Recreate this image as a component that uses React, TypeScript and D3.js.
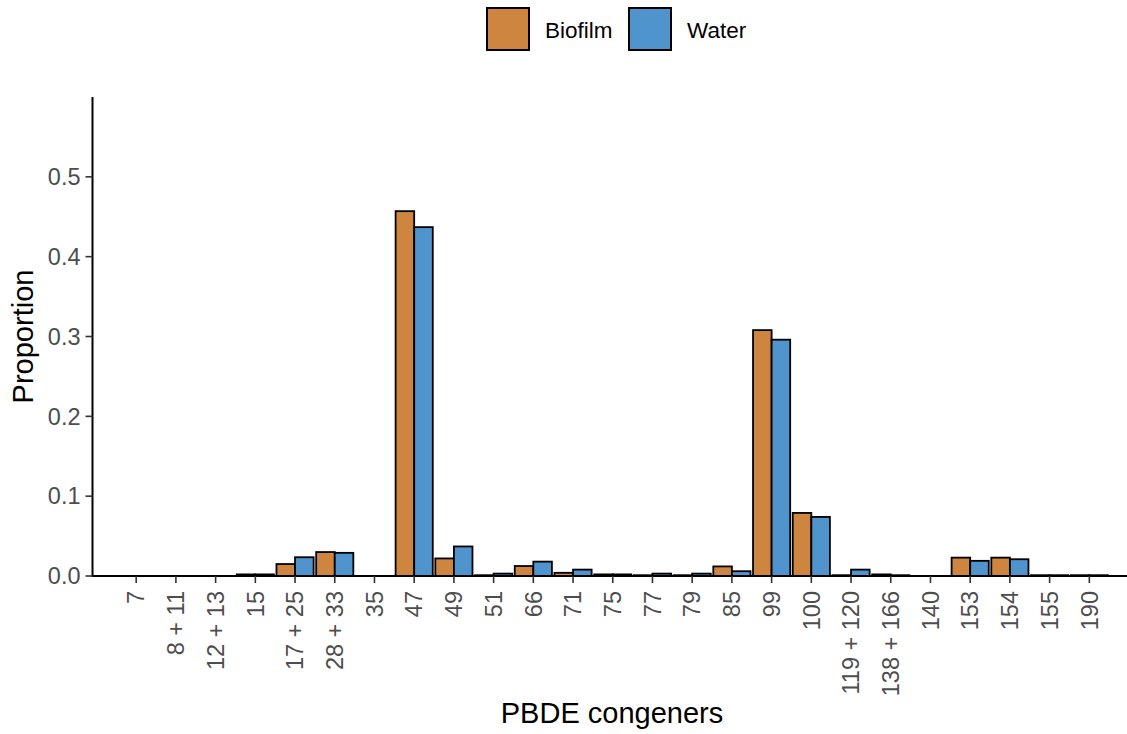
import { useMemo } from 'react';
import * as d3 from 'd3';

const congeners = [
  '7', '8 + 11', '12 + 13', '15', '17 + 25', '28 + 33', '35', '47', '49', '51', '66', '71', '75',
  '77', '79', '85', '99', '100', '119 + 120', '138 + 166', '140', '153', '154', '155', '190',
];
const biofilm = [
  0, 0, 0, 0.002, 0.015, 0.030, 0, 0.457, 0.022, 0.001, 0.0125, 0.004, 0.002,
  0.001, 0.001, 0.012, 0.308, 0.079, 0.001, 0.002, 0, 0.023, 0.023, 0.001, 0.001,
];
const water = [
  0, 0, 0, 0.002, 0.0235, 0.029, 0, 0.437, 0.037, 0.003, 0.018, 0.008, 0.002,
  0.003, 0.003, 0.006, 0.296, 0.074, 0.008, 0.001, 0, 0.019, 0.021, 0.001, 0.001,
];
const series = ['Biofilm', 'Water'];
const colors = ['#CD853F', '#4F94CD'];
const yTicks = [0, 0.1, 0.2, 0.3, 0.4, 0.5];

const W = 1127;
const H = 734;
const left = 92.5;
const top = 97;
const bottom = 576;
const step = 41.29;
const font = '"Liberation Sans", Arial, sans-serif';

export default function App() {
  const x = useMemo(
    () =>
      d3
        .scaleBand<string>()
        .domain(congeners)
        .range([left, left + step * (congeners.length + 0.2)])
        .paddingInner(0)
        .paddingOuter(0.6),
    []
  );
  const y = d3.scaleLinear().domain([0, 0.6]).range([bottom, top]);
  const inner = d3.scaleBand<string>().domain(series).range([0, step * 0.9]);
  const values = [biofilm, water];

  return (
    <svg width={W} height={H} style={{ position: 'absolute', left: 0, top: 0, background: '#fff', fontFamily: font }}>
      {/* bars */}
      {congeners.map((c, i) => {
        const cx = (x(c) ?? 0) + x.bandwidth() / 2;
        return series.map((s, k) => {
          const v = values[k][i];
          const yy = y(v);
          return (
            <rect
              key={c + s}
              x={cx - step * 0.45 + (inner(s) ?? 0)}
              y={yy}
              width={inner.bandwidth()}
              height={bottom - yy}
              fill={colors[k]}
              stroke="#000"
              strokeWidth={1.8}
            />
          );
        });
      })}

      {/* axes */}
      <line x1={left} x2={W} y1={bottom} y2={bottom} stroke="#000" strokeWidth={2} />
      <line x1={left} x2={left} y1={top} y2={bottom + 1} stroke="#000" strokeWidth={2} />

      {yTicks.map((t) => (
        <g key={t}>
          <line x1={left - 7} x2={left} y1={y(t)} y2={y(t)} stroke="#333" strokeWidth={1.6} />
          <text x={left - 12} y={y(t)} dy="0.35em" textAnchor="end" fontSize={23.5} fill="#4d4d4d">
            {t.toFixed(1)}
          </text>
        </g>
      ))}

      {congeners.map((c) => {
        const cx = (x(c) ?? 0) + x.bandwidth() / 2;
        return (
          <g key={c}>
            <line x1={cx} x2={cx} y1={bottom} y2={bottom + 7} stroke="#333" strokeWidth={1.6} />
            <text
              transform={`translate(${cx},${bottom + 15}) rotate(-90)`}
              dy="0.35em"
              textAnchor="end"
              fontSize={23.5}
              fill="#4d4d4d"
            >
              {c}
            </text>
          </g>
        );
      })}

      {/* titles */}
      <text x={612} y={723} textAnchor="middle" fontSize={29} fill="#000">
        PBDE congeners
      </text>
      <text transform={`translate(33,${(top + bottom) / 2}) rotate(-90)`} textAnchor="middle" fontSize={29} fill="#000">
        Proportion
      </text>

      {/* legend */}
      {series.map((s, k) => {
        const lx = k === 0 ? 487 : 629;
        return (
          <g key={s}>
            <rect x={lx} y={8} width={42} height={42} fill={colors[k]} stroke="#000" strokeWidth={2} />
            <text x={lx + 58} y={30} dy="0.35em" fontSize={22.5} fill="#000">
              {s}
            </text>
          </g>
        );
      })}
    </svg>
  );
}
